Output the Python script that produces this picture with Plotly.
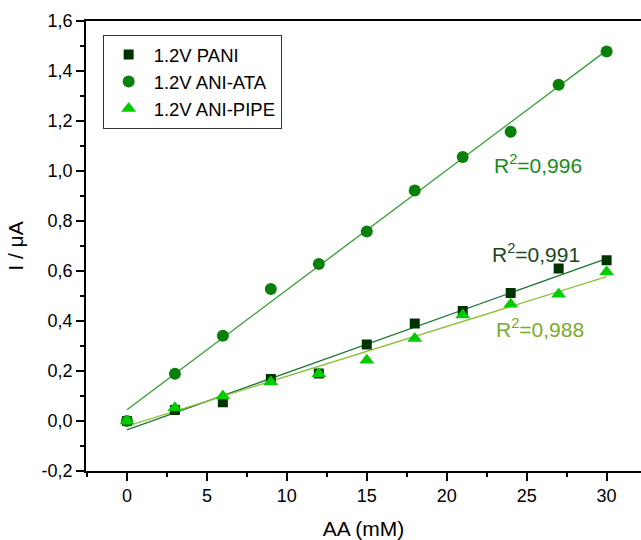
import numpy as np
import plotly.graph_objects as go

# ---- data ----
conc = [0, 3, 6, 9, 12, 15, 18, 21, 24, 27, 30]
pani = [0.0, 0.044, 0.075, 0.168, 0.19, 0.306, 0.39, 0.44, 0.512, 0.61, 0.643]
ani_ata = [0.0, 0.189, 0.341, 0.528, 0.628, 0.758, 0.922, 1.056, 1.157, 1.345, 1.478]
ani_pipe = [0.0, 0.053, 0.10, 0.156, 0.189, 0.243, 0.33, 0.424, 0.467, 0.507, 0.596]

series_names = ["1.2V PANI", "1.2V ANI-ATA", "1.2V ANI-PIPE"]
r2_labels = ["R<sup>2</sup>=0,991", "R<sup>2</sup>=0,996", "R<sup>2</sup>=0,988"]

x_tick_values = [0, 5, 10, 15, 20, 25, 30]
x_tick_labels = ["0", "5", "10", "15", "20", "25", "30"]
y_tick_values = [-0.2, 0.0, 0.2, 0.4, 0.6, 0.8, 1.0, 1.2, 1.4, 1.6]
y_tick_labels = ["-0,2", "0,0", "0,2", "0,4", "0,6", "0,8", "1,0", "1,2", "1,4", "1,6"]

# ---- styles ----
marker_colors = ["#003300", "#0a800a", "#00cc00"]
marker_symbols = ["square", "circle", "triangle-up"]
marker_sizes = [10, 12, 13]
fit_colors = ["#1f7a35", "#2ca02c", "#8dbf3a"]
label_colors = ["#1e461e", "#1a8c1a", "#7aab2a"]
label_pos = [(22.7, 0.672), (22.85, 1.028), (22.95, 0.372)]

ys = [pani, ani_ata, ani_pipe]
font = "Liberation Sans, Arial, sans-serif"

fig = go.Figure()

# fit lines
x_fit = np.array([min(conc), max(conc)], dtype=float)
for y, c in zip(ys, fit_colors):
    k, b = np.polyfit(conc, y, 1)
    fig.add_trace(go.Scatter(x=x_fit, y=k * x_fit + b, mode="lines",
                             line=dict(color=c, width=1.3), showlegend=False,
                             hoverinfo="skip"))

for y, name, col, sym, sz in zip(ys, series_names, marker_colors, marker_symbols, marker_sizes):
    fig.add_trace(go.Scatter(x=conc, y=y, mode="markers", name=name,
                             marker=dict(color=col, symbol=sym, size=sz,
                                         line=dict(width=0))))

for txt, col, (ax, ay) in zip(r2_labels, label_colors, label_pos):
    fig.add_annotation(x=ax, y=ay, text=txt, showarrow=False, xanchor="left",
                       yanchor="middle", font=dict(size=21, color=col, family=font))

fig.update_layout(
    width=641, height=540,
    margin=dict(l=86, r=0, t=21, b=69, autoexpand=False),
    plot_bgcolor="white", paper_bgcolor="white",
    font=dict(family=font, color="black"),
    legend=dict(x=0.03, y=0.969, xanchor="left", yanchor="top",
                bordercolor="#333333", borderwidth=1,
                font=dict(size=18.5, family=font), itemwidth=40,
                bgcolor="white"),
)
fig.update_xaxes(
    automargin=False,
    range=[-2.56, 32.15], showgrid=False, zeroline=False,
    showline=True, linecolor="black", linewidth=1.5, mirror=True,
    ticks="outside", ticklen=8, tickwidth=1.5, tickcolor="black",
    tickmode="array", tickvals=x_tick_values, ticktext=x_tick_labels,
    tickfont=dict(size=18, family=font),
    minor=dict(tickmode="linear", tick0=2.5, dtick=5, ticks="outside", ticklen=4,
               tickwidth=1.5, tickcolor="black"),
    title=dict(text="AA (mM)", font=dict(size=21, family=font), standoff=17),
)
fig.update_yaxes(
    automargin=False,
    range=[-0.2, 1.6], showgrid=False, zeroline=False,
    showline=True, linecolor="black", linewidth=1.5, mirror=False,
    ticks="outside", ticklen=8, tickwidth=1.5, tickcolor="black",
    tickmode="array", tickvals=y_tick_values, ticktext=y_tick_labels,
    tickfont=dict(size=18, family=font),
    minor=dict(tickmode="linear", tick0=-0.1, dtick=0.2, ticks="outside", ticklen=4,
               tickwidth=1.5, tickcolor="black"),
    title=dict(text="I / μA", font=dict(size=21, family=font), standoff=12),
)

fig.write_html("out.html", config={"displayModeBar": False},
               post_script="document.body.style.margin='0';")
